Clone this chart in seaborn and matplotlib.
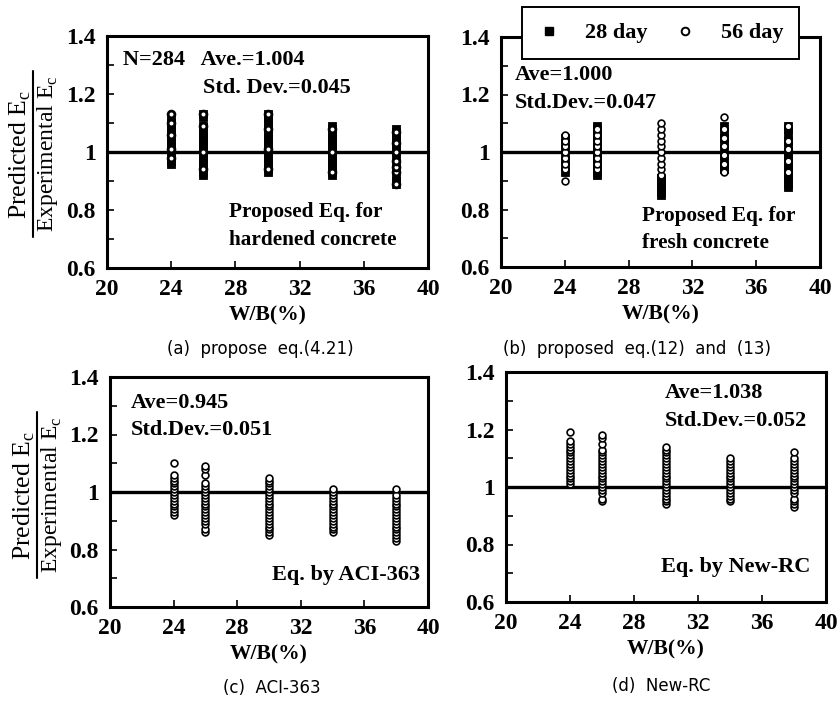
import matplotlib
matplotlib.use("Agg")
import matplotlib.pyplot as plt
import seaborn as sns
import pandas as pd
from matplotlib.lines import Line2D

# ---------------- data ----------------
wb = [24, 26, 30, 34, 38]

a_28 = [
    [0.96, 0.97, 0.98, 0.99, 1.00, 1.01, 1.02, 1.03, 1.04, 1.05, 1.06, 1.07, 1.08, 1.09, 1.10, 1.11],
    [0.92, 0.93, 0.94, 0.95, 0.96, 0.97, 0.98, 0.99, 1.00, 1.01, 1.02, 1.03, 1.04, 1.05, 1.06, 1.07, 1.08, 1.09, 1.12, 1.13],
    [0.93, 0.94, 0.95, 0.96, 0.97, 0.98, 0.99, 1.00, 1.01, 1.02, 1.03, 1.04, 1.05, 1.06, 1.07, 1.08, 1.09, 1.10, 1.11, 1.12, 1.13],
    [0.92, 0.93, 0.94, 0.95, 0.96, 0.97, 0.98, 0.99, 1.00, 1.01, 1.02, 1.03, 1.04, 1.05, 1.06, 1.07, 1.08, 1.09],
    [0.89, 0.90, 0.92, 0.94, 0.96, 0.98, 1.00, 1.02, 1.03, 1.04, 1.05, 1.06, 1.07, 1.08],
]
a_56 = [
    [0.98, 1.01, 1.06, 1.10, 1.13],
    [0.94, 1.00, 1.09, 1.13],
    [0.94, 1.01, 1.08, 1.13],
    [0.93, 1.00, 1.08],
    [0.89, 0.93, 0.95, 0.97, 1.00, 1.03, 1.07],
]
b_28 = [
    [0.93, 0.95, 0.97, 0.99, 1.01, 1.03, 1.05],
    [0.92, 0.93, 0.94, 0.95, 0.96, 0.97, 0.98, 0.99, 1.00, 1.01, 1.02, 1.03, 1.04, 1.05, 1.06, 1.07, 1.08, 1.09],
    [0.85, 0.86, 0.87, 0.88, 0.89, 0.90, 0.91],
    [0.94, 0.95, 0.97, 0.99, 1.01, 1.03, 1.05, 1.07, 1.09],
    [0.88, 0.89, 0.90, 0.91, 0.92, 0.93, 0.94, 0.95, 0.96, 0.97, 0.98, 0.99, 1.00, 1.02, 1.04, 1.06, 1.08, 1.09],
]
b_56 = [
    [0.90, 0.94, 0.96, 0.98, 1.00, 1.02, 1.04, 1.06],
    [0.94, 0.96, 0.98, 1.00, 1.02, 1.04, 1.06, 1.08],
    [0.92, 0.94, 0.96, 0.98, 1.00, 1.02, 1.04, 1.06, 1.08, 1.10],
    [0.93, 0.96, 0.99, 1.02, 1.05, 1.08, 1.12],
    [0.93, 0.97, 1.01, 1.04, 1.09],
]
c_56 = [
    [0.92, 0.93, 0.94, 0.95, 0.96, 0.97, 0.98, 0.99, 1.00, 1.01, 1.02, 1.03, 1.04, 1.05, 1.06, 1.10],
    [0.86, 0.87, 0.89, 0.90, 0.91, 0.92, 0.93, 0.94, 0.95, 0.96, 0.97, 0.98, 0.99, 1.00, 1.01, 1.02, 1.03, 1.06, 1.08, 1.09],
    [0.85, 0.86, 0.87, 0.88, 0.89, 0.90, 0.91, 0.92, 0.93, 0.94, 0.95, 0.96, 0.97, 0.98, 0.99, 1.00, 1.01, 1.02, 1.03, 1.04, 1.05],
    [0.86, 0.87, 0.88, 0.89, 0.90, 0.91, 0.92, 0.93, 0.94, 0.95, 0.96, 0.97, 0.98, 0.99, 1.00, 1.01],
    [0.83, 0.84, 0.85, 0.86, 0.87, 0.88, 0.89, 0.90, 0.91, 0.92, 0.93, 0.94, 0.95, 0.96, 0.97, 0.98, 0.99, 1.01],
]
d_56 = [
    [1.01, 1.02, 1.03, 1.04, 1.05, 1.06, 1.07, 1.08, 1.09, 1.10, 1.11, 1.12, 1.13, 1.14, 1.15, 1.16, 1.19],
    [0.95, 0.96, 0.98, 0.99, 1.00, 1.01, 1.02, 1.03, 1.04, 1.05, 1.06, 1.07, 1.08, 1.09, 1.10, 1.11, 1.12, 1.13, 1.15, 1.17, 1.18],
    [0.94, 0.95, 0.96, 0.97, 0.98, 0.99, 1.00, 1.01, 1.02, 1.03, 1.04, 1.05, 1.06, 1.07, 1.08, 1.09, 1.10, 1.11, 1.12, 1.13, 1.14],
    [0.95, 0.96, 0.97, 0.98, 0.99, 1.00, 1.01, 1.02, 1.03, 1.04, 1.05, 1.06, 1.07, 1.08, 1.09, 1.10],
    [0.93, 0.94, 0.95, 0.96, 0.98, 0.99, 1.00, 1.01, 1.02, 1.03, 1.04, 1.05, 1.06, 1.07, 1.08, 1.09, 1.10, 1.12],
]

x_ticks = [20, 24, 28, 32, 36, 40]
y_ticks = [0.6, 0.8, 1.0, 1.2, 1.4]
y_tick_labels = ["0.6", "0.8", "1", "1.2", "1.4"]
captions = ["(a)  propose  eq.(4.21)", "(b)  proposed  eq.(12)  and  (13)", "(c)  ACI-363", "(d)  New-RC"]
legend_labels = ["28 day", "56 day"]


def to_df(groups):
    xs, ys = [], []
    for x, vals in zip(wb, groups):
        xs += [x] * len(vals)
        ys += vals
    return pd.DataFrame({"wb": xs, "ratio": ys})


sns.set_theme(style="white")
SERIF = ["Liberation Serif", "DejaVu Serif"]
plt.rcParams["font.family"] = SERIF
plt.rcParams["mathtext.fontset"] = "custom"
plt.rcParams["mathtext.rm"] = "Liberation Serif"
for k in ["text.color", "axes.labelcolor", "xtick.color", "ytick.color", "axes.edgecolor"]:
    plt.rcParams[k] = "black"

fig = plt.figure(figsize=(8.38, 7.05), dpi=100)

pos = {
    "a": [107 / 838, 1 - 268 / 705, 321 / 838, 232 / 705],
    "b": [501 / 838, 1 - 267 / 705, 319 / 838, 230 / 705],
    "c": [110 / 838, 1 - 607 / 705, 318 / 838, 230 / 705],
    "d": [506 / 838, 1 - 602 / 705, 320 / 838, 230 / 705],
}

SQ = dict(marker="s", s=30, color="black", edgecolor="black", linewidth=0.6, zorder=3)
CI = dict(marker="o", s=24, facecolor="white", edgecolor="black", linewidth=1.2, zorder=4)
CI_A = dict(marker="o", s=24, facecolor="white", edgecolor="black", linewidth=2.0, zorder=4)


def style_ax(ax):
    ax.set_xlim(20, 40)
    ax.set_ylim(0.6, 1.4)
    ax.set_xticks(x_ticks)
    ax.set_yticks(y_ticks)
    ax.set_yticklabels(y_tick_labels)
    ax.set_yticks([0.7, 0.9, 1.1, 1.3], minor=True)
    ax.tick_params(axis="both", which="both", direction="in", length=5, width=1.2,
                   left=True, bottom=True, top=False, right=False, labelsize=17,
                   colors="black")
    ax.tick_params(axis="x", pad=8)
    ax.tick_params(axis="y", pad=8)
    for lab in ax.get_xticklabels() + ax.get_yticklabels():
        lab.set_fontweight("bold")
    for sp in ax.spines.values():
        sp.set_linewidth(2.2)
        sp.set_color("black")
    ax.axhline(1.0, color="black", lw=2.4, zorder=2)
    ax.set_xlabel("W/B(%)", fontsize=15.5, fontweight="bold", labelpad=4, color="black")
    ax.set_ylabel("")


TXT = dict(fontsize=16, fontweight="bold", color="black")
TXT2 = dict(fontsize=15.3, fontweight="bold", color="black")

# (a)
ax = fig.add_axes(pos["a"])
sns.scatterplot(data=to_df(a_28), x="wb", y="ratio", ax=ax, **SQ)
sns.scatterplot(data=to_df(a_56), x="wb", y="ratio", ax=ax, **CI_A)
style_ax(ax)
ax.text(0.05, 0.897, "N=284   Ave.=1.004", transform=ax.transAxes, va="center", **TXT)
ax.text(0.30, 0.776, "Std. Dev.=0.045", transform=ax.transAxes, va="center", **TXT)
ax.text(0.38, 0.241, "Proposed Eq. for", transform=ax.transAxes, va="center", **TXT2)
ax.text(0.38, 0.12, "hardened concrete", transform=ax.transAxes, va="center", **TXT2)

# (b)
ax = fig.add_axes(pos["b"])
sns.scatterplot(data=to_df(b_28), x="wb", y="ratio", ax=ax, **SQ)
sns.scatterplot(data=to_df(b_56), x="wb", y="ratio", ax=ax, **CI)
style_ax(ax)
ax.text(0.044, 0.835, "Ave=1.000", transform=ax.transAxes, va="center", **TXT)
ax.text(0.044, 0.713, "Std.Dev.=0.047", transform=ax.transAxes, va="center", **TXT)
ax.text(0.442, 0.222, "Proposed Eq. for", transform=ax.transAxes, va="center", **TXT2)
ax.text(0.442, 0.104, "fresh concrete", transform=ax.transAxes, va="center", **TXT2)

handles = [
    Line2D([], [], ls="none", marker="s", ms=5.5, color="black"),
    Line2D([], [], ls="none", marker="o", ms=5.5, mfc="white", mec="black", mew=1.4),
]
leg = fig.legend(handles, legend_labels, loc="center",
                 bbox_to_anchor=(660.5 / 838, 1 - 33 / 705), ncol=2,
                 frameon=True, fancybox=False, edgecolor="black", framealpha=1,
                 prop={"family": SERIF, "weight": "bold", "size": 16},
                 handlelength=1.0, columnspacing=1.2, handletextpad=1.1,
                 borderpad=0.7, borderaxespad=0, labelcolor="black")
leg.get_frame().set_linewidth(1.4)

# (c)
ax = fig.add_axes(pos["c"])
sns.scatterplot(data=to_df(c_56), x="wb", y="ratio", ax=ax, **CI)
style_ax(ax)
ax.text(0.066, 0.887, "Ave=0.945", transform=ax.transAxes, va="center", **TXT)
ax.text(0.066, 0.77, "Std.Dev.=0.051", transform=ax.transAxes, va="center", **TXT)
ax.text(0.51, 0.139, "Eq. by ACI-363", transform=ax.transAxes, va="center", **TXT)

# (d)
ax = fig.add_axes(pos["d"])
sns.scatterplot(data=to_df(d_56), x="wb", y="ratio", ax=ax, **CI)
style_ax(ax)
ax.text(0.497, 0.909, "Ave=1.038", transform=ax.transAxes, va="center", **TXT)
ax.text(0.497, 0.787, "Std.Dev.=0.052", transform=ax.transAxes, va="center", **TXT)
ax.text(0.484, 0.152, "Eq. by New-RC", transform=ax.transAxes, va="center", **TXT)

# fraction-style y labels
def frac_label(cx, cy):
    fx = cx / 838
    fy = 1 - cy / 705
    fig.text(fx - 13 / 838, fy, r"Predicted E$_\mathregular{c}$", rotation=90,
             ha="center", va="center", fontsize=18.5, color="black")
    fig.text(fx + 14 / 838, fy, r"Experimental E$_\mathregular{c}$", rotation=90,
             ha="center", va="center", fontsize=17, color="black")
    fig.add_artist(Line2D([fx, fx], [fy - 83 / 705, fy + 83 / 705],
                          transform=fig.transFigure, color="black", lw=1.5))

frac_label(33, 154)
frac_label(37, 495)

# captions
CAP = dict(fontsize=12, family=["DejaVu Sans"], ha="center", va="center", color="black")
fig.text(260 / 838, 1 - 349 / 705, captions[0], **CAP)
fig.text(637 / 838, 1 - 349 / 705, captions[1], **CAP)
fig.text(272 / 838, 1 - 688 / 705, captions[2], **CAP)
fig.text(661 / 838, 1 - 686 / 705, captions[3], **CAP)

fig.savefig("out.png", dpi=100)
